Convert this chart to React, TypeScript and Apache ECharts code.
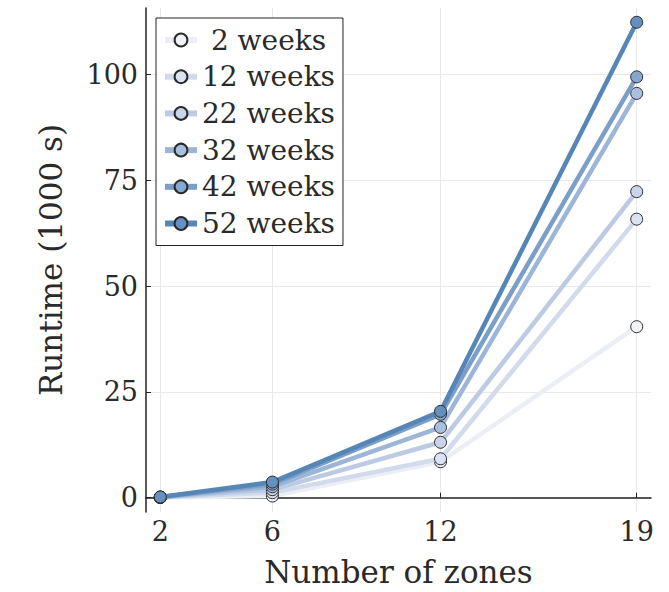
import React, { useEffect, useRef } from "react";
import * as echarts from "echarts";

const zones = [2, 6, 12, 19];
const seriesNames = ["2 weeks", "12 weeks", "22 weeks", "32 weeks", "42 weeks", "52 weeks"];
const runtime2w = [0.05, 0.4, 8.5, 40.4];
const runtime12w = [0.08, 1.2, 9.2, 65.8];
const runtime22w = [0.1, 1.9, 13.1, 72.3];
const runtime32w = [0.12, 2.6, 16.6, 95.5];
const runtime42w = [0.15, 3.2, 19.7, 99.4];
const runtime52w = [0.18, 3.7, 20.4, 112.3];
const allRuntimes = [runtime2w, runtime12w, runtime22w, runtime32w, runtime42w, runtime52w];
const xTicks = [2, 6, 12, 19];
const yTicks = [0, 25, 50, 75, 100];

const lineColors = ["#eceef6", "#d2dbec", "#bccbe3", "#9db6d7", "#7b9fc8", "#5686b5"];
const markerColors = ["#f2f3f8", "#dbe2f1", "#c8d5ea", "#a9c0df", "#85a8d0", "#6490c0"];

const FONT = "DejaVu Serif";

export default function App() {
  const ref = useRef<HTMLDivElement>(null);
  useEffect(() => {
    if (!ref.current) return;
    const chart = echarts.init(ref.current, undefined, { renderer: "svg" });
    const series = seriesNames.map((name, i) => ({
      name,
      type: "line",
      data: zones.map((z, j) => [z, allRuntimes[i][j]]),
      symbol: "circle",
      symbolSize: 12,
      z: 2 + i,
      lineStyle: { color: lineColors[i], width: 4.5 },
      itemStyle: { color: markerColors[i], borderColor: "#2a2a2a", borderWidth: 1 },
      emphasis: { disabled: true },
    }));
    chart.setOption({
      animation: false,
      backgroundColor: "#ffffff",
      grid: { left: 146, right: 18, top: 8, bottom: 76, containLabel: false },
      legend: {
        orient: "vertical",
        left: 156,
        top: 18,
        padding: [7, 8, 7, 6],
        itemWidth: 32,
        itemHeight: 16,
        itemGap: 6.7,
        backgroundColor: "#ffffff",
        borderColor: "#222222",
        borderWidth: 1,
        borderRadius: 0,
        data: seriesNames,
        lineStyle: { width: 6 },
        formatter: (n: string) => (n.length < 8 ? " " + n : n),
        textStyle: { fontFamily: FONT, fontSize: 28, color: "#2a2a2a", lineHeight: 30 },
      },
      xAxis: {
        type: "value",
        min: 1.49,
        max: 19.51,
        name: "Number of zones",
        nameLocation: "middle",
        nameGap: 44,
        nameTextStyle: { fontFamily: FONT, fontSize: 31, color: "#2a2a2a" },
        axisLine: { show: true, lineStyle: { color: "#222222", width: 1.5 } },
        axisTick: { show: true, inside: true, length: 5, lineStyle: { color: "#222222" }, customValues: xTicks },
        axisLabel: { fontFamily: FONT, fontSize: 27, color: "#2a2a2a", margin: 6, customValues: xTicks, showMinLabel: true, showMaxLabel: true },
        splitLine: { show: true, lineStyle: { color: "#e9e9e9", width: 1 }, customValues: xTicks },
        minorTick: { show: false },
      },
      yAxis: {
        type: "value",
        min: -3.37,
        max: 115.67,
        name: "Runtime (1000 s)",
        nameLocation: "middle",
        nameRotate: 90,
        nameGap: 80,
        nameTextStyle: { fontFamily: FONT, fontSize: 31, color: "#2a2a2a" },
        axisLine: { show: true, lineStyle: { color: "#222222", width: 1.5 } },
        axisTick: { show: true, inside: true, length: 5, lineStyle: { color: "#222222" }, customValues: yTicks },
        axisLabel: { fontFamily: FONT, fontSize: 27, color: "#2a2a2a", margin: 8, customValues: yTicks },
        splitLine: { show: true, lineStyle: { color: "#e9e9e9", width: 1 }, customValues: yTicks },
      },
      series,
    });
    return () => chart.dispose();
  }, []);
  return <div ref={ref} style={{ width: 669, height: 592, position: "absolute", left: 0, top: 0 }} />;
}
